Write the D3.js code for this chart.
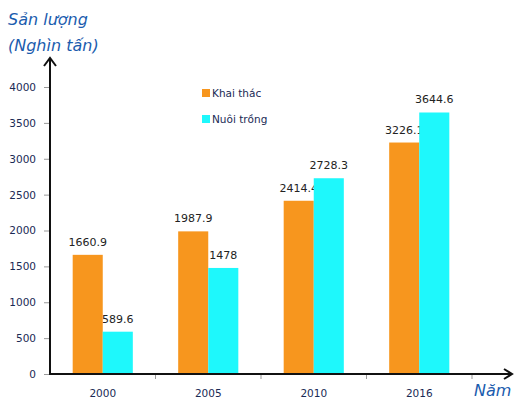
<!DOCTYPE html>
<html><head><meta charset="utf-8">
<script src="https://cdn.jsdelivr.net/npm/d3@7"></script>
<style>body{margin:0;background:#fff}</style>
</head><body>
<svg id="c" width="520" height="404"></svg>
<script>
const years = ["2000","2005","2010","2016"];
const khaiThac = [1660.9, 1987.9, 2414.4, 3226.1];
const nuoiTrong = [589.6, 1478, 2728.3, 3644.6];
const khaiLabels = ["1660.9","1987.9","2414.4","3226.1"];
const nuoiLabels = ["589.6","1478","2728.3","3644.6"];
const yTicks = [0,500,1000,1500,2000,2500,3000,3500,4000];
const seriesNames = ["Khai thác","Nuôi trồng"];
const colors = ["#F7961E","#1EF8FC"];

const svg = d3.select("#c");
const x0 = 50, x1 = 472, yZero = 374, yTop = 87;
const x = d3.scaleBand().domain(years).range([x0, x1]).paddingInner(0.43).paddingOuter(0.215);
const y = d3.scaleLinear().domain([0,4000]).range([yZero, yTop]);
const bw = x.bandwidth()/2;
const font = "DejaVu Sans, Verdana, sans-serif";
const txtCol = "#1a2a55";

// y ticks
const yAxis = svg.append("g").attr("transform",`translate(${x0},0)`)
  .call(d3.axisLeft(y).tickValues(yTicks).tickSize(6).tickPadding(8).tickFormat(d3.format("d")));
yAxis.select(".domain").remove();
yAxis.selectAll(".tick line").attr("stroke","#999");
yAxis.selectAll("text").attr("font-family",font).attr("font-size","10.5px").attr("fill",txtCol);

// x ticks
const xb = years.map((d,i)=> x.step()*(i+1)+x0);
svg.selectAll(".xt").data(xb).join("line")
  .attr("x1",d=>d).attr("x2",d=>d).attr("y1",yZero).attr("y2",yZero+5).attr("stroke","#999");
svg.selectAll(".xl").data(years).join("text")
  .attr("x",d=>x(d)+x.bandwidth()/2).attr("y",yZero+23).attr("text-anchor","middle")
  .attr("font-family",font).attr("font-size","10.5px").attr("fill",txtCol).text(d=>d);

// bars
const groups = [khaiThac, nuoiTrong];
const labels = [khaiLabels, nuoiLabels];
groups.forEach((vals,s)=>{
  svg.selectAll(".b"+s).data(vals).join("rect")
    .attr("x",(d,i)=>x(years[i])+s*bw).attr("width",bw)
    .attr("y",d=>y(d)).attr("height",d=>yZero-y(d)).attr("fill",colors[s]);
  svg.selectAll(".l"+s).data(vals).join("text")
    .attr("x",(d,i)=>x(years[i])+s*bw+bw/2).attr("y",d=>y(d)-9)
    .attr("text-anchor","middle").attr("font-family",font).attr("font-size","11px")
    .attr("fill","#222").text((d,i)=>labels[s][i]);
});

// axes with arrows
svg.append("line").attr("x1",x0).attr("x2",x0).attr("y1",yZero+1).attr("y2",58).attr("stroke","#111").attr("stroke-width",2);
svg.append("path").attr("d",`M${x0-6},${66} L${x0},${58} L${x0+6},${66}`).attr("fill","none").attr("stroke","#111").attr("stroke-width",2);
svg.append("line").attr("x1",x0-1).attr("x2",512).attr("y1",yZero).attr("y2",yZero).attr("stroke","#111").attr("stroke-width",2);
svg.append("path").attr("d",`M504,${yZero-5} L512,${yZero} L504,${yZero+5}`).attr("fill","none").attr("stroke","#111").attr("stroke-width",2);

// titles
const tcol = "#1B5CAE";
svg.append("text").attr("x",8).attr("y",25).attr("font-family",font).attr("font-style","italic")
  .attr("font-size","16px").attr("fill",tcol).text("Sản lượng");
svg.append("text").attr("x",8).attr("y",51).attr("font-family",font).attr("font-style","italic")
  .attr("font-size","16px").attr("fill",tcol).text("(Nghìn tấn)");
svg.append("text").attr("x",474).attr("y",396).attr("font-family",font).attr("font-style","italic")
  .attr("font-size","16px").attr("fill",tcol).text("Năm");

// legend
seriesNames.forEach((n,i)=>{
  svg.append("rect").attr("x",202).attr("y",89+i*26).attr("width",8).attr("height",8).attr("fill",colors[i]);
  svg.append("text").attr("x",212).attr("y",97+i*26).attr("font-family",font).attr("font-size","10.5px")
    .attr("fill",txtCol).text(n);
});
</script>
</body></html>
